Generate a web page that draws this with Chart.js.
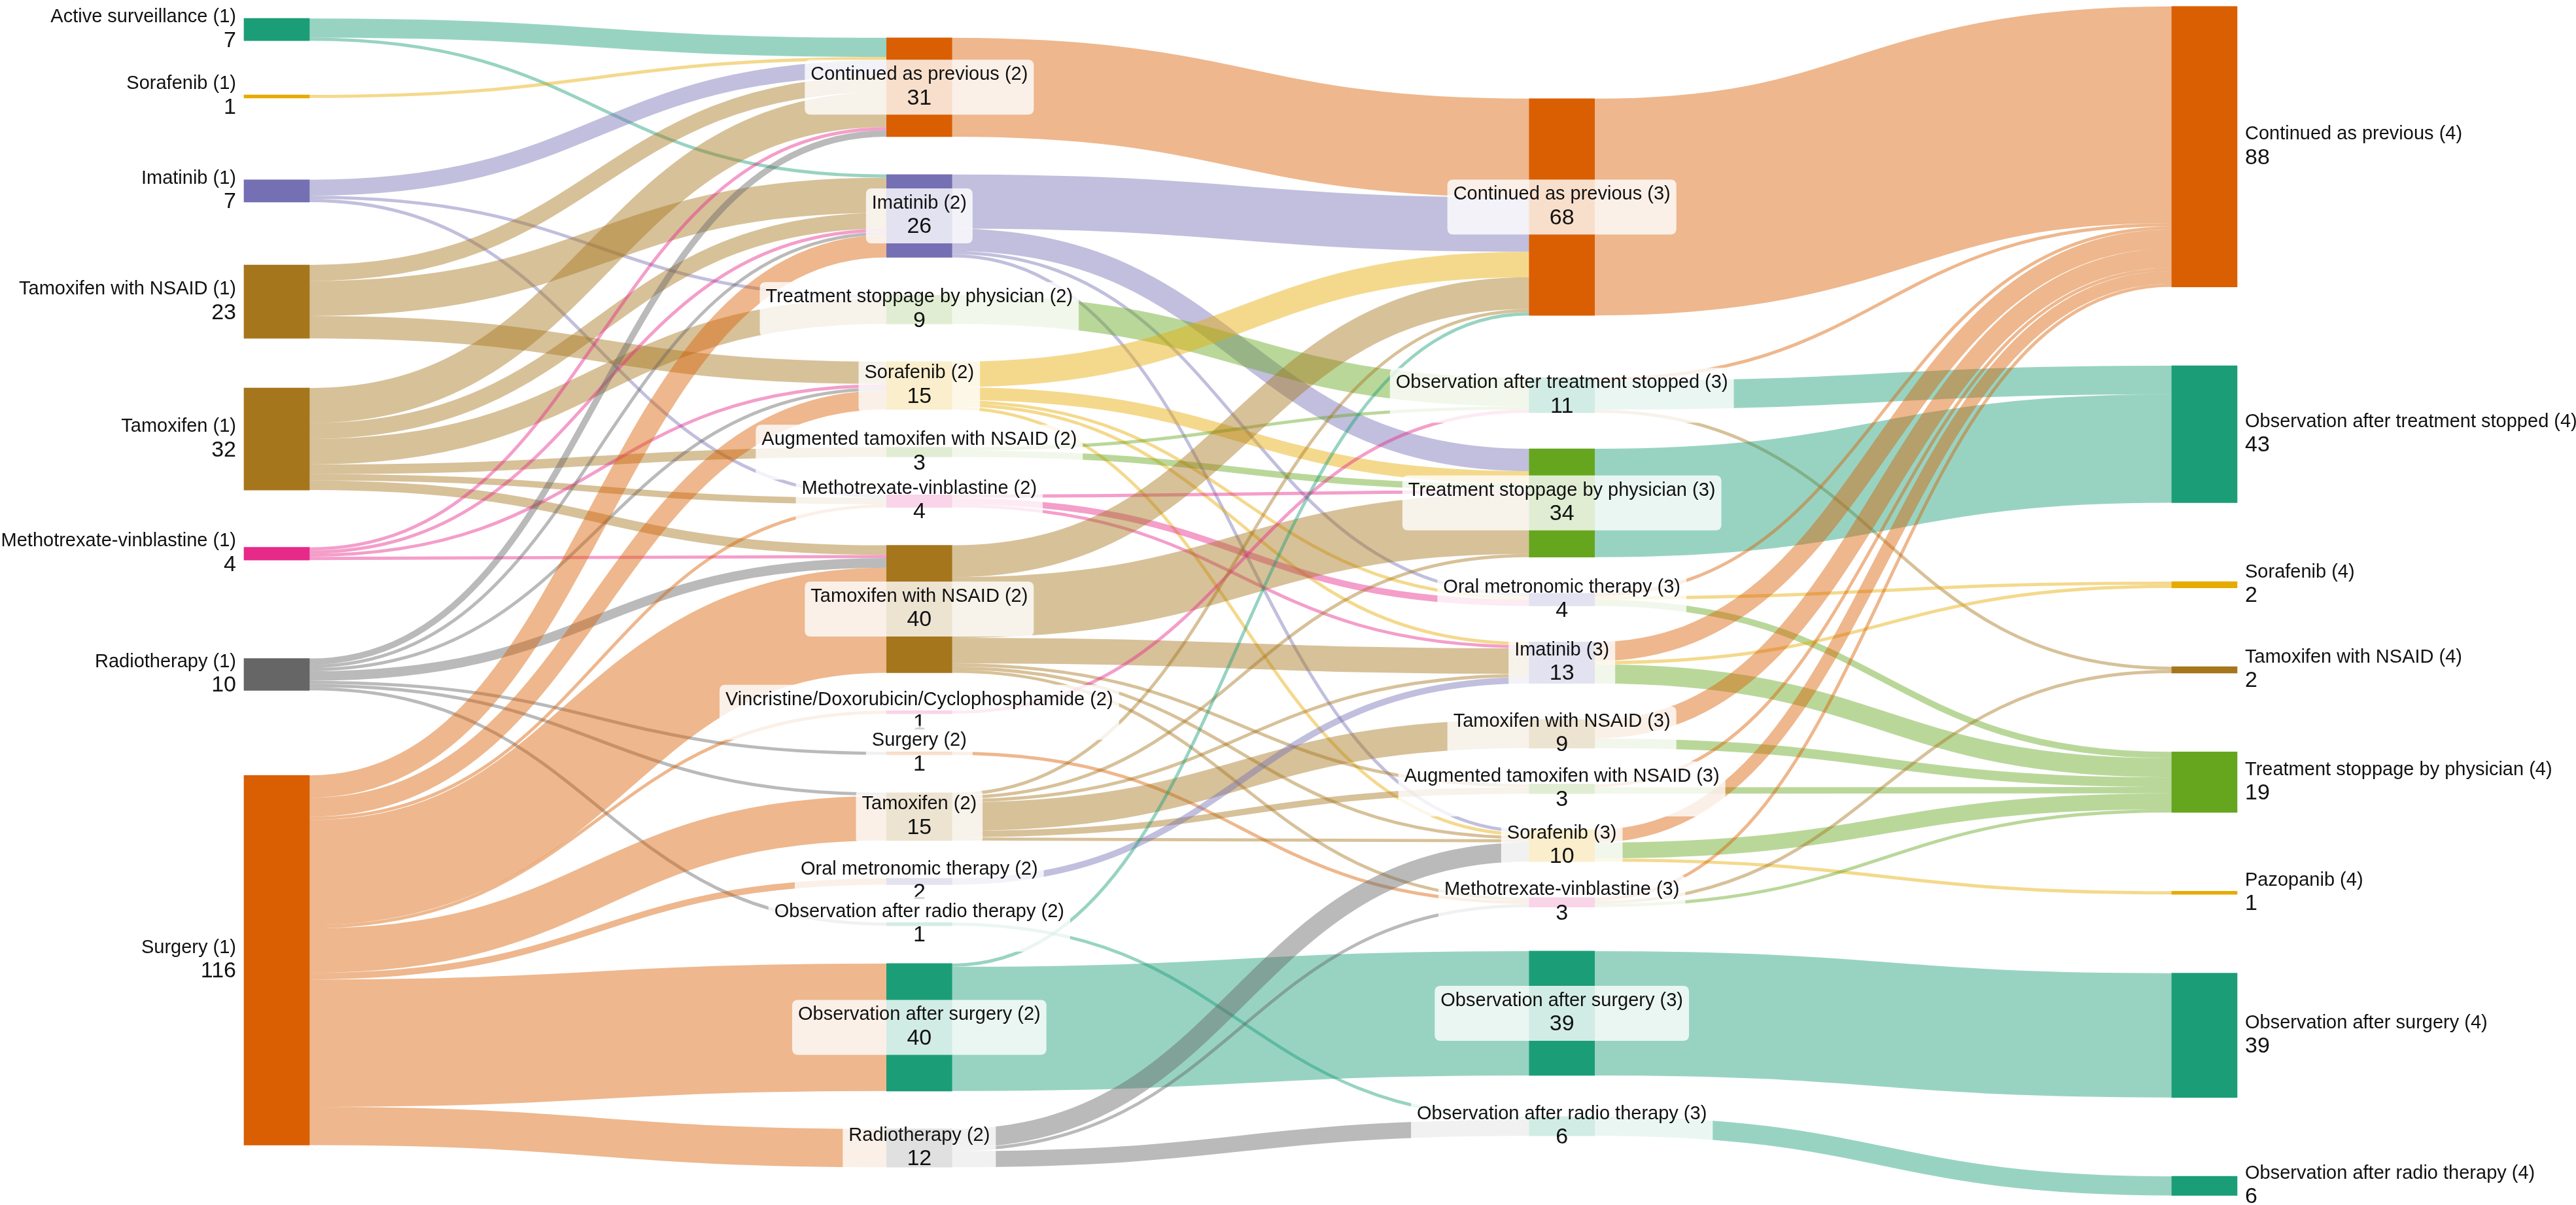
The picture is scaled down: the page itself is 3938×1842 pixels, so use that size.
<!DOCTYPE html>
<html>
<head>
<meta charset="utf-8">
<title>Treatment pathways</title>
<script src="https://cdn.jsdelivr.net/npm/chart.js@4.4.1/dist/chart.umd.min.js"></script>
<style>
  html, body { margin: 0; padding: 0; background: #fff; }
  #wrap { width: 3938px; height: 1842px; }
</style>
</head>
<body>
<div id="wrap"><canvas id="sankey"></canvas></div>
<script>
// treatment stages, top to bottom as they are drawn
const stage1 = ['Active surveillance', 'Sorafenib', 'Imatinib', 'Tamoxifen with NSAID', 'Tamoxifen',
  'Methotrexate-vinblastine', 'Radiotherapy', 'Surgery'];
const stage2 = ['Continued as previous', 'Imatinib', 'Treatment stoppage by physician', 'Sorafenib',
  'Augmented tamoxifen with NSAID', 'Methotrexate-vinblastine', 'Tamoxifen with NSAID',
  'Vincristine/Doxorubicin/Cyclophosphamide', 'Surgery', 'Tamoxifen', 'Oral metronomic therapy',
  'Observation after radio therapy', 'Observation after surgery', 'Radiotherapy'];
const stage3 = ['Continued as previous', 'Observation after treatment stopped', 'Treatment stoppage by physician',
  'Oral metronomic therapy', 'Imatinib', 'Tamoxifen with NSAID', 'Augmented tamoxifen with NSAID', 'Sorafenib',
  'Methotrexate-vinblastine', 'Observation after surgery', 'Observation after radio therapy'];
const stage4 = ['Continued as previous', 'Observation after treatment stopped', 'Sorafenib', 'Tamoxifen with NSAID',
  'Treatment stoppage by physician', 'Pazopanib', 'Observation after surgery', 'Observation after radio therapy'];

// patients moving from one stage to the next: [from, to, count]
const flows12 = [
  ['Active surveillance', 'Continued as previous', 6], ['Active surveillance', 'Imatinib', 1],
  ['Sorafenib', 'Continued as previous', 1],
  ['Imatinib', 'Continued as previous', 5], ['Imatinib', 'Treatment stoppage by physician', 1],
  ['Imatinib', 'Methotrexate-vinblastine', 1],
  ['Tamoxifen with NSAID', 'Continued as previous', 5], ['Tamoxifen with NSAID', 'Imatinib', 11],
  ['Tamoxifen with NSAID', 'Sorafenib', 7],
  ['Tamoxifen', 'Continued as previous', 11], ['Tamoxifen', 'Imatinib', 5],
  ['Tamoxifen', 'Treatment stoppage by physician', 8], ['Tamoxifen', 'Augmented tamoxifen with NSAID', 3],
  ['Tamoxifen', 'Methotrexate-vinblastine', 2], ['Tamoxifen', 'Tamoxifen with NSAID', 3],
  ['Methotrexate-vinblastine', 'Continued as previous', 1], ['Methotrexate-vinblastine', 'Imatinib', 1],
  ['Methotrexate-vinblastine', 'Sorafenib', 1], ['Methotrexate-vinblastine', 'Tamoxifen with NSAID', 1],
  ['Radiotherapy', 'Continued as previous', 2], ['Radiotherapy', 'Imatinib', 1], ['Radiotherapy', 'Sorafenib', 1],
  ['Radiotherapy', 'Tamoxifen with NSAID', 3], ['Radiotherapy', 'Surgery', 1], ['Radiotherapy', 'Tamoxifen', 1],
  ['Radiotherapy', 'Observation after radio therapy', 1],
  ['Surgery', 'Imatinib', 7], ['Surgery', 'Sorafenib', 6], ['Surgery', 'Methotrexate-vinblastine', 1],
  ['Surgery', 'Tamoxifen with NSAID', 33], ['Surgery', 'Vincristine/Doxorubicin/Cyclophosphamide', 1],
  ['Surgery', 'Tamoxifen', 14], ['Surgery', 'Oral metronomic therapy', 2],
  ['Surgery', 'Observation after surgery', 40], ['Surgery', 'Radiotherapy', 12]
];
const flows23 = [
  ['Continued as previous', 'Continued as previous', 31],
  ['Imatinib', 'Continued as previous', 17], ['Imatinib', 'Treatment stoppage by physician', 7],
  ['Imatinib', 'Oral metronomic therapy', 1], ['Imatinib', 'Sorafenib', 1],
  ['Treatment stoppage by physician', 'Observation after treatment stopped', 9],
  ['Sorafenib', 'Continued as previous', 8], ['Sorafenib', 'Treatment stoppage by physician', 4],
  ['Sorafenib', 'Oral metronomic therapy', 1], ['Sorafenib', 'Imatinib', 1], ['Sorafenib', 'Sorafenib', 1],
  ['Augmented tamoxifen with NSAID', 'Observation after treatment stopped', 1],
  ['Augmented tamoxifen with NSAID', 'Treatment stoppage by physician', 2],
  ['Methotrexate-vinblastine', 'Treatment stoppage by physician', 1],
  ['Methotrexate-vinblastine', 'Oral metronomic therapy', 2], ['Methotrexate-vinblastine', 'Imatinib', 1],
  ['Tamoxifen with NSAID', 'Continued as previous', 10], ['Tamoxifen with NSAID', 'Treatment stoppage by physician', 19],
  ['Tamoxifen with NSAID', 'Imatinib', 8], ['Tamoxifen with NSAID', 'Augmented tamoxifen with NSAID', 1],
  ['Tamoxifen with NSAID', 'Sorafenib', 1], ['Tamoxifen with NSAID', 'Methotrexate-vinblastine', 1],
  ['Vincristine/Doxorubicin/Cyclophosphamide', 'Observation after treatment stopped', 1],
  ['Surgery', 'Methotrexate-vinblastine', 1],
  ['Tamoxifen', 'Continued as previous', 1], ['Tamoxifen', 'Treatment stoppage by physician', 1],
  ['Tamoxifen', 'Imatinib', 1], ['Tamoxifen', 'Tamoxifen with NSAID', 9],
  ['Tamoxifen', 'Augmented tamoxifen with NSAID', 2], ['Tamoxifen', 'Sorafenib', 1],
  ['Oral metronomic therapy', 'Imatinib', 2],
  ['Observation after radio therapy', 'Observation after radio therapy', 1],
  ['Observation after surgery', 'Continued as previous', 1], ['Observation after surgery', 'Observation after surgery', 39],
  ['Radiotherapy', 'Sorafenib', 6], ['Radiotherapy', 'Methotrexate-vinblastine', 1],
  ['Radiotherapy', 'Observation after radio therapy', 5]
];
const flows34 = [
  ['Continued as previous', 'Continued as previous', 68],
  ['Observation after treatment stopped', 'Continued as previous', 1],
  ['Observation after treatment stopped', 'Observation after treatment stopped', 9],
  ['Observation after treatment stopped', 'Tamoxifen with NSAID', 1],
  ['Treatment stoppage by physician', 'Observation after treatment stopped', 34],
  ['Oral metronomic therapy', 'Continued as previous', 1], ['Oral metronomic therapy', 'Sorafenib', 1],
  ['Oral metronomic therapy', 'Treatment stoppage by physician', 2],
  ['Imatinib', 'Continued as previous', 6], ['Imatinib', 'Sorafenib', 1],
  ['Imatinib', 'Treatment stoppage by physician', 6],
  ['Tamoxifen with NSAID', 'Continued as previous', 6], ['Tamoxifen with NSAID', 'Treatment stoppage by physician', 3],
  ['Augmented tamoxifen with NSAID', 'Continued as previous', 1],
  ['Augmented tamoxifen with NSAID', 'Treatment stoppage by physician', 2],
  ['Sorafenib', 'Continued as previous', 4], ['Sorafenib', 'Treatment stoppage by physician', 5],
  ['Sorafenib', 'Pazopanib', 1],
  ['Methotrexate-vinblastine', 'Continued as previous', 1], ['Methotrexate-vinblastine', 'Tamoxifen with NSAID', 1],
  ['Methotrexate-vinblastine', 'Treatment stoppage by physician', 1],
  ['Observation after surgery', 'Observation after surgery', 39],
  ['Observation after radio therapy', 'Observation after radio therapy', 6]
];

// Dark2
const nodeColor = {
  'Active surveillance': '#1b9e77', 'Observation after treatment stopped': '#1b9e77',
  'Observation after surgery': '#1b9e77', 'Observation after radio therapy': '#1b9e77',
  'Surgery': '#d95f02', 'Continued as previous': '#d95f02',
  'Imatinib': '#7570b3', 'Oral metronomic therapy': '#7570b3',
  'Methotrexate-vinblastine': '#e7298a', 'Vincristine/Doxorubicin/Cyclophosphamide': '#e7298a',
  'Treatment stoppage by physician': '#66a61e', 'Augmented tamoxifen with NSAID': '#66a61e',
  'Sorafenib': '#e6ab02', 'Pazopanib': '#e6ab02',
  'Tamoxifen with NSAID': '#a6761d', 'Tamoxifen': '#a6761d',
  'Radiotherapy': '#666666'
};

const Y_MAX = 378;     // vertical extent in patients
const Y_TOP = 2;       // usable band for nodes
const Y_BOT = 375;
const PAD = 11.3;      // smallest gap between nodes, in patients
const OUTER = [0, 1, 1, 1];     // 0 = stage justified to full height, 1 = even margins
const PULL = [0.25, 0, 1, 0];   // how far each stage moves toward its linked neighbours
const NODE_W = 100;

const stages = [stage1, stage2, stage3, stage4];
const flowSets = [flows12, flows23, flows34];

// ---- build graph ----
const nodes = [];
const lookup = {};
const columns = stages.map((names, c) => names.map((name, i) => {
  const n = { col: c, rank: i, name, inLinks: [], outLinks: [], value: 0 };
  nodes.push(n);
  lookup[c + '|' + name] = n;
  return n;
}));
const links = [];
flowSets.forEach((set, c) => set.forEach(([from, to, v]) => {
  const l = { source: lookup[c + '|' + from], target: lookup[(c + 1) + '|' + to], value: v, gap: c };
  links.push(l);
  l.source.outLinks.push(l);
  l.target.inLinks.push(l);
}));
nodes.forEach(n => {
  const vin = n.inLinks.reduce((s, l) => s + l.value, 0);
  const vout = n.outLinks.reduce((s, l) => s + l.value, 0);
  n.value = Math.max(vin, vout);
});

// ---- layout (in patient units) ----
function setSlots() {
  nodes.forEach(n => {
    n.outLinks.sort((a, b) => a.target.y0 - b.target.y0);
    n.inLinks.sort((a, b) => a.source.y0 - b.source.y0);
    let s = 0;
    n.outLinks.forEach(l => { l.sy = s; s += l.value; });
    s = 0;
    n.inLinks.forEach(l => { l.ty = s; s += l.value; });
  });
}
// move a node toward the top that would make its links level
function pull(n, alpha) {
  let y = 0, w = 0;
  n.inLinks.forEach(l => { y += (l.source.y0 + l.sy - l.ty) * l.value; w += l.value; });
  n.outLinks.forEach(l => { y += (l.target.y0 + l.ty - l.sy) * l.value; w += l.value; });
  if (!(w > 0)) return;
  const dy = (y / w - n.y0) * alpha;
  n.y0 += dy;
  n.y1 += dy;
}
function resolve(col) {
  let y = Y_TOP;
  col.forEach(n => {
    if (n.y0 < y) { n.y1 += y - n.y0; n.y0 = y; }
    y = n.y1 + PAD;
  });
  y = Y_BOT;
  for (let i = col.length - 1; i >= 0; i--) {
    const n = col[i];
    if (n.y1 > y) { n.y0 -= n.y1 - y; n.y1 = y; }
    y = n.y0 - PAD;
  }
}
function spread(col, top, bottom, outer) {
  const total = col.reduce((s, n) => s + n.value, 0);
  const gap = (bottom - top - total) / (col.length - 1 + 2 * outer);
  let y = top + gap * outer;
  col.forEach(n => { n.y0 = y; n.y1 = y + n.value; y = n.y1 + gap; });
}
function layout() {
  columns.forEach((col, c) => {
    if (OUTER[c]) spread(col, 0, Y_MAX, OUTER[c]);
    else spread(col, Y_TOP, Y_BOT, 0);
  });
  setSlots();
  columns.forEach((col, c) => {
    if (!PULL[c]) return;
    col.forEach(n => pull(n, PULL[c]));
    resolve(col);
    setSlots();
  });
  // the final stage is justified over the whole height
  spread(columns[columns.length - 1], Y_TOP, Y_BOT, 0);
  setSlots();
}
layout();

// one floating-bar dataset per rank inside a column
const maxRank = Math.max(...columns.map(c => c.length));
const datasets = [];
for (let r = 0; r < maxRank; r++) {
  datasets.push({
    label: 'rank ' + r,
    data: columns.map(col => col[r] ? [col[r].y0, col[r].y1] : null),
    backgroundColor: columns.map(col => col[r] ? nodeColor[col[r].name] : 'rgba(0,0,0,0)'),
    borderWidth: 0,
    barThickness: NODE_W,
    grouped: false,
    clip: false
  });
}

function withAlpha(hex, a) {
  const v = parseInt(hex.slice(1), 16);
  return `rgba(${(v >> 16) & 255},${(v >> 8) & 255},${v & 255},${a})`;
}
function roundBox(ctx, x, y, w, h, r) {
  ctx.beginPath();
  ctx.moveTo(x + r, y);
  ctx.lineTo(x + w - r, y);
  ctx.quadraticCurveTo(x + w, y, x + w, y + r);
  ctx.lineTo(x + w, y + h - r);
  ctx.quadraticCurveTo(x + w, y + h, x + w - r, y + h);
  ctx.lineTo(x + r, y + h);
  ctx.quadraticCurveTo(x, y + h, x, y + h - r);
  ctx.lineTo(x, y + r);
  ctx.quadraticCurveTo(x, y, x + r, y);
  ctx.closePath();
}

const NAME_FONT = '29px "Liberation Sans", Arial, sans-serif';
const VALUE_FONT = '34px "Liberation Sans", Arial, sans-serif';

const sankeyPlugin = {
  id: 'sankeyLinks',
  beforeDatasetsDraw(chart) {
    const { ctx, scales: { x, y } } = chart;
    const half = NODE_W / 2;
    const unit = Math.abs(y.getPixelForValue(1) - y.getPixelForValue(0));
    ctx.save();
    links.forEach(l => {
      const x0 = x.getPixelForValue(l.source.col) + half;
      const x1 = x.getPixelForValue(l.target.col) - half;
      const y0 = y.getPixelForValue(l.source.y0 + l.sy + l.value / 2);
      const y1 = y.getPixelForValue(l.target.y0 + l.ty + l.value / 2);
      const xm = (x0 + x1) / 2;
      ctx.beginPath();
      ctx.moveTo(x0, y0);
      ctx.bezierCurveTo(xm, y0, xm, y1, x1, y1);
      ctx.lineWidth = l.value * unit;
      // last step is coloured by where patients ended up
      const c = l.gap < 2 ? nodeColor[l.source.name] : nodeColor[l.target.name];
      ctx.strokeStyle = withAlpha(c, 0.45);
      ctx.stroke();
    });
    ctx.restore();
  },
  afterDatasetsDraw(chart) {
    const { ctx, scales: { x, y } } = chart;
    const half = NODE_W / 2;
    const last = columns.length - 1;
    ctx.save();
    ctx.textBaseline = 'middle';
    nodes.forEach(n => {
      const cx = x.getPixelForValue(n.col);
      const cy = y.getPixelForValue((n.y0 + n.y1) / 2);
      const name = `${n.name} (${n.col + 1})`;
      const val = String(n.value);
      let tx;
      if (n.col === 0) {
        tx = cx - half - 12;
        ctx.textAlign = 'right';
      } else if (n.col === last) {
        tx = cx + half + 12;
        ctx.textAlign = 'left';
      } else {
        ctx.font = NAME_FONT;
        const w = Math.max(ctx.measureText(name).width, 40) + 18;
        roundBox(ctx, cx - w / 2, cy - 42, w, 84, 9);
        ctx.fillStyle = 'rgba(255,255,255,0.8)';
        ctx.fill();
        tx = cx;
        ctx.textAlign = 'center';
      }
      ctx.fillStyle = '#111';
      ctx.font = NAME_FONT;
      ctx.fillText(name, tx, cy - 19);
      ctx.font = VALUE_FONT;
      ctx.fillText(val, tx, cy + 17);
    });
    ctx.restore();
  }
};

new Chart(document.getElementById('sankey'), {
  type: 'bar',
  data: { labels: ['1', '2', '3', '4'], datasets },
  options: {
    responsive: true,
    maintainAspectRatio: false,
    animation: false,
    devicePixelRatio: 1,
    layout: { padding: { left: 423, right: 568, top: 0, bottom: 0 } },
    plugins: { legend: { display: false }, tooltip: { enabled: false } },
    scales: {
      x: { type: 'category', offset: false, display: false, grid: { display: false } },
      y: { type: 'linear', min: 0, max: Y_MAX, reverse: true, display: false }
    }
  },
  plugins: [sankeyPlugin]
});
</script>
</body>
</html>
